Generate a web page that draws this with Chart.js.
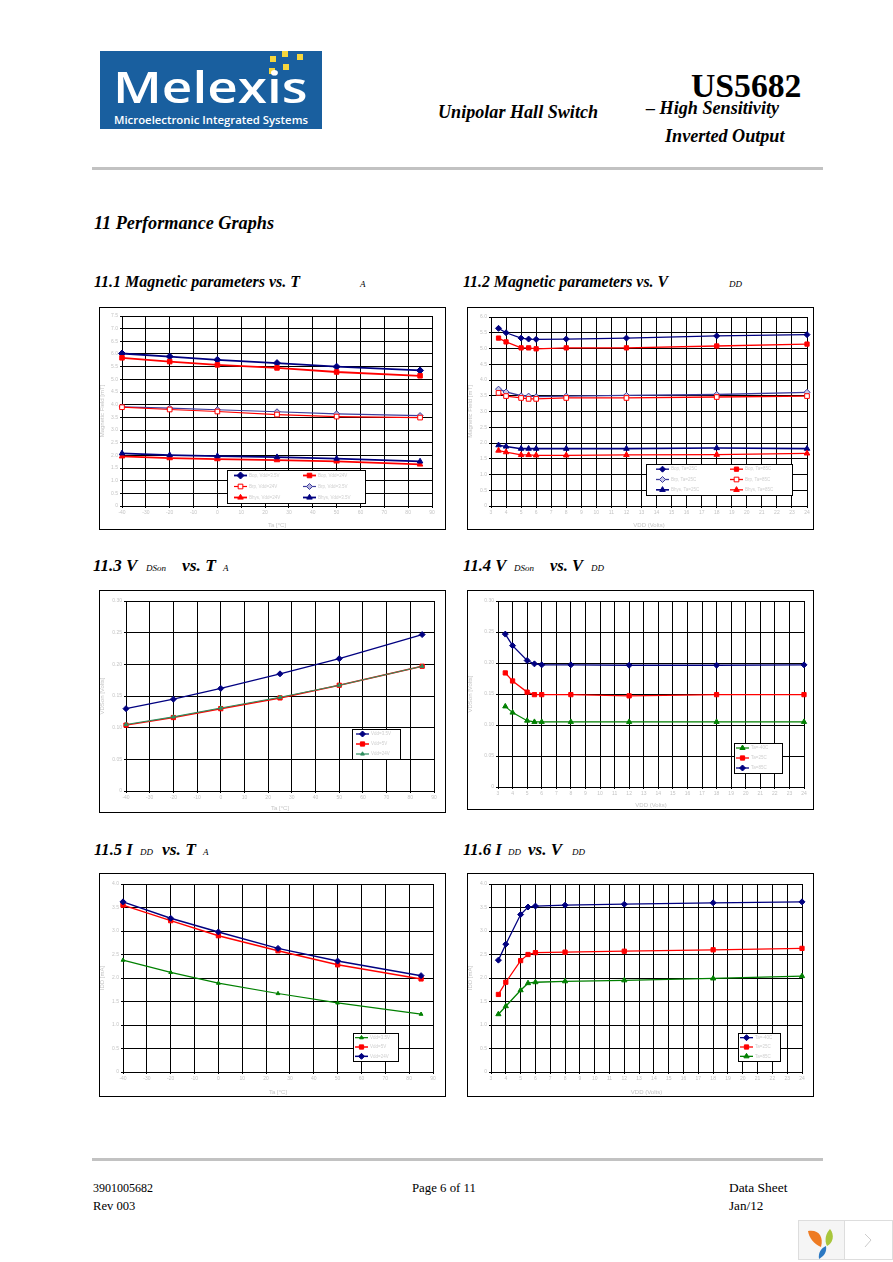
<!DOCTYPE html>
<html>
<head>
<meta charset="utf-8">
<title>US5682 Performance Graphs</title>
<script src="https://cdn.jsdelivr.net/npm/chart.js@4/dist/chart.umd.js"></script>
<style>
html, body { margin: 0; padding: 0; background: #fff; }
#page { position: relative; width: 893px; height: 1262px; overflow: hidden; }
.t { position: absolute; white-space: nowrap; transform: translateY(-50%); transform-origin: left center; font-family: "Liberation Serif", serif; color: #000; }
.h { font-weight: bold; font-style: italic; font-size: 17px; }
.s { font-style: italic; font-size: 9px; }
.f { font-size: 12px; }
.rule { position: absolute; left: 92px; width: 731px; height: 3px; background: #c2c2c2; }
.frame { position: absolute; border: 1px solid #000; box-sizing: border-box; background: #fff; }
.frame canvas { position: absolute; left: -1px; top: -1px; }
#logo { position: absolute; left: 100px; top: 51px; width: 222px; height: 78px; background: #195f9f; }
.sq { position: absolute; width: 6px; height: 6px; background: #f5d63d; }
.lg { position: absolute; color: #fff; font-weight: 600; white-space: nowrap; transform-origin: left center; transform: translateY(-50%); font-family: "Open Sans", sans-serif; }
</style>
</head>
<body>
<div id="page">
  <div id="logo">
    <div class="sq" style="left:170px;top:5px"></div>
    <div class="sq" style="left:182px;top:0px"></div>
    <div class="sq" style="left:197px;top:3px"></div>
    <div class="sq" style="left:183px;top:13px"></div>
    <div class="sq" style="left:169px;top:17px"></div>
    <span class="lg" data-w="194" style="left:13px;top:35px;font-size:44px">Melexis</span>
    <span class="lg" data-w="194" style="left:14px;top:68px;font-size:11px">Microelectronic Integrated Systems</span>
  </div>
  <span class="t" data-w="110" style="left:691px;top:86px;font-size:34px;font-weight:bold">US5682</span>
  <span class="t h" data-w="160" style="left:438px;top:112px;font-size:18px">Unipolar Hall Switch</span>
  <span class="t h" data-w="133" style="left:646px;top:108px;font-size:18px">– High Sensitivity</span>
  <span class="t h" data-w="120" style="left:665px;top:136px;font-size:18px">Inverted Output</span>
  <div class="rule" style="top:167px"></div>
  <span class="t h" data-w="180" style="left:94px;top:223px;font-size:18px">11 Performance Graphs</span>

  <span class="t h" data-w="206" style="left:94px;top:282px">11.1 Magnetic parameters vs. T</span>
  <span class="t s" style="left:360px;top:284px">A</span>
  <span class="t h" data-w="205" style="left:463px;top:282px">11.2 Magnetic parameters vs. V</span>
  <span class="t s" style="left:729px;top:284px">DD</span>

  <span class="t h" data-w="44" style="left:93px;top:566px">11.3 V</span>
  <span class="t s" style="left:146px;top:568px">DSon</span>
  <span class="t h" data-w="34" style="left:182px;top:566px">vs. T</span>
  <span class="t s" style="left:223px;top:568px">A</span>
  <span class="t h" data-w="43" style="left:463px;top:566px">11.4 V</span>
  <span class="t s" style="left:514px;top:568px">DSon</span>
  <span class="t h" data-w="33" style="left:550px;top:566px">vs. V</span>
  <span class="t s" style="left:591px;top:568px">DD</span>

  <span class="t h" data-w="39" style="left:94px;top:850px">11.5 I</span>
  <span class="t s" style="left:140px;top:852px">DD</span>
  <span class="t h" data-w="34" style="left:162px;top:850px">vs. T</span>
  <span class="t s" style="left:203px;top:852px">A</span>
  <span class="t h" data-w="39" style="left:463px;top:850px">11.6 I</span>
  <span class="t s" style="left:508px;top:852px">DD</span>
  <span class="t h" data-w="34" style="left:528px;top:850px">vs. V</span>
  <span class="t s" style="left:572px;top:852px">DD</span>

  <div class="frame" style="left:99px;top:307px;width:347px;height:223px"><canvas id="c1"></canvas></div>
  <div class="frame" style="left:467px;top:307px;width:347px;height:223px"><canvas id="c2"></canvas></div>
  <div class="frame" style="left:99px;top:590px;width:347px;height:223px"><canvas id="c3"></canvas></div>
  <div class="frame" style="left:467px;top:590px;width:347px;height:220px"><canvas id="c4"></canvas></div>
  <div class="frame" style="left:99px;top:873px;width:347px;height:224px"><canvas id="c5"></canvas></div>
  <div class="frame" style="left:467px;top:873px;width:347px;height:224px"><canvas id="c6"></canvas></div>

  <div class="rule" style="top:1158px"></div>
  <span class="t f" data-w="60" style="left:93px;top:1188px">3901005682</span>
  <span class="t f" data-w="42" style="left:93px;top:1206px">Rev 003</span>
  <span class="t f" data-w="64" style="left:412px;top:1188px">Page 6 of 11</span>
  <span class="t f" data-w="58" style="left:729px;top:1188px">Data Sheet</span>
  <span class="t f" data-w="34" style="left:729px;top:1206px">Jan/12</span>

  <svg style="position:absolute;left:798px;top:1220px" width="95" height="40">
    <rect x="0.5" y="0.5" width="46" height="39" fill="#f5f5f5" stroke="#ddd"/>
    <rect x="46.5" y="0.5" width="48" height="39" fill="#fff" stroke="#ddd"/>
    <path d="M10 11 C20 9 26 16 23 27 C16 24 11 18 10 11Z" fill="#ee7b22"/>
    <path d="M32 9 C37 15 35 23 29 26 C26 20 28 13 32 9Z" fill="#a8c63c"/>
    <path d="M28 26 C29 32 26 36 21 39 C20 33 23 28 28 26Z" fill="#2b78c2"/>
    <path d="M67 14 L73 20 L67 27" fill="none" stroke="#ccc"/>
  </svg>
</div>

<script>
// x values
const tempC = [-40, -20, 0, 25, 50, 85];
const vddV = [3.5, 4, 5, 5.5, 6, 8, 12, 18, 24];

// 11.1 magnetic parameters vs Ta
const bopHiT = [6.02, 5.90, 5.77, 5.64, 5.50, 5.35];
const bopLoT = [5.85, 5.70, 5.57, 5.45, 5.29, 5.14];
const brpLoT = [3.90, 3.81, 3.73, 3.61, 3.53, 3.49];
const brpHiT = [3.91, 3.86, 3.80, 3.72, 3.64, 3.57];
const hysLoT = [1.96, 1.89, 1.85, 1.81, 1.76, 1.64];
const hysHiT = [2.08, 2.01, 1.97, 1.93, 1.87, 1.76];

// 11.2 magnetic parameters vs Vdd
const bopHiV = [5.64, 5.50, 5.33, 5.30, 5.29, 5.30, 5.33, 5.40, 5.44];
const bopLoV = [5.33, 5.21, 5.02, 5.02, 4.99, 5.02, 5.02, 5.08, 5.14];
const brpHiV = [3.71, 3.62, 3.50, 3.49, 3.47, 3.49, 3.51, 3.54, 3.61];
const brpLoV = [3.59, 3.49, 3.43, 3.40, 3.40, 3.43, 3.43, 3.46, 3.49];
const hysHiV = [1.93, 1.89, 1.82, 1.82, 1.82, 1.82, 1.82, 1.84, 1.82];
const hysLoV = [1.76, 1.71, 1.62, 1.62, 1.61, 1.61, 1.62, 1.63, 1.67];

// 11.3 VDSon vs Ta
const vdsT35 = [0.130, 0.145, 0.162, 0.185, 0.209, 0.247];
const vdsT5 = [0.104, 0.116, 0.130, 0.147, 0.167, 0.197];
const vdsT24 = [0.105, 0.117, 0.131, 0.148, 0.167, 0.197];

// 11.4 VDSon vs Vdd
const vdsVCold = [0.130, 0.120, 0.107, 0.105, 0.105, 0.105, 0.105, 0.105, 0.105];
const vdsVRoom = [0.184, 0.171, 0.153, 0.149, 0.149, 0.149, 0.147, 0.149, 0.149];
const vdsVHot = [0.2466, 0.228, 0.204, 0.1986, 0.197, 0.197, 0.1964, 0.1964, 0.197];

// 11.5 Idd vs Ta
const iddT35 = [2.38, 2.12, 1.89, 1.67, 1.47, 1.23];
const iddT5 = [3.55, 3.22, 2.90, 2.58, 2.28, 1.98];
const iddT24 = [3.62, 3.27, 2.98, 2.63, 2.36, 2.05];

// 11.6 Idd vs Vdd
const iddVCold = [2.38, 2.72, 3.35, 3.51, 3.53, 3.55, 3.57, 3.60, 3.62];
const iddVRoom = [1.65, 1.91, 2.37, 2.50, 2.54, 2.55, 2.57, 2.60, 2.63];
const iddVHot = [1.23, 1.40, 1.74, 1.89, 1.91, 1.93, 1.95, 1.99, 2.04];

const NAVY = '#000080', RED = '#ff0000', GREEN = '#008000';

// squeeze the page text to the widths in the scan
document.querySelectorAll('[data-w]').forEach(el => {
    const k = el.dataset.w / el.offsetWidth;
    el.style.transform = 'translateY(-50%) scaleX(' + k + ')';
});

function line(label, xs, ys, color, shape, size, width, fill) {
    return {
        label: label,
        data: xs.map((x, i) => ({ x: x, y: ys[i] })),
        showLine: true,
        clip: false,
        borderColor: color,
        borderWidth: width,
        tension: 0,
        pointStyle: shape,
        pointRadius: size,
        pointHoverRadius: size,
        pointBackgroundColor: fill || color,
        pointBorderColor: color,
        pointBorderWidth: 1
    };
}

// boxed legend sitting inside the plot, same as the Excel one
const boxLegend = {
    id: 'boxLegend',
    afterDraw(chart, args, o) {
        const ctx = chart.ctx;
        const sets = chart.data.datasets;
        const rows = Math.ceil(sets.length / o.cols);
        const rowH = o.h / rows;
        ctx.save();
        ctx.fillStyle = '#fff';
        ctx.strokeStyle = '#000';
        ctx.lineWidth = 1;
        ctx.fillRect(o.x, o.y, o.w, o.h);
        ctx.strokeRect(o.x + 0.5, o.y + 0.5, o.w, o.h);
        ctx.font = '4.5px "Liberation Sans"';
        ctx.textBaseline = 'middle';
        sets.forEach((d, i) => {
            const col = i % o.cols;
            const row = Math.floor(i / o.cols);
            const lx = o.x + o.colX[col];
            const ly = o.y + rowH * (row + 0.5);
            ctx.strokeStyle = d.borderColor;
            ctx.lineWidth = d.borderWidth;
            ctx.beginPath();
            ctx.moveTo(lx, ly);
            ctx.lineTo(lx + 13, ly);
            ctx.stroke();
            ctx.fillStyle = d.pointBackgroundColor;
            ctx.lineWidth = 1;
            Chart.helpers.drawPoint(ctx, { pointStyle: d.pointStyle, radius: d.pointRadius, borderWidth: 1, rotation: 0 }, lx + 6.5, ly);
            ctx.fillStyle = '#cfcfcf';
            ctx.fillText(d.label, lx + 15, ly);
        });
        ctx.restore();
    }
};

function makeChart(id, frame, plot, xAxis, yAxis, sets, legend) {
    const canvas = document.getElementById(id);
    canvas.width = frame.w;
    canvas.height = frame.h;
    canvas.style.width = frame.w + 'px';
    canvas.style.height = frame.h + 'px';
    sets.forEach((s, i) => { if (s.order === undefined) s.order = -i; });
    const tickFont = { family: 'Liberation Sans', size: 5 };
    const titleFont = { family: 'Liberation Sans', size: 6 };
    new Chart(canvas, {
        type: 'scatter',
        data: { datasets: sets },
        plugins: [boxLegend],
        options: {
            responsive: false,
            animation: false,
            layout: { padding: { top: plot.top - frame.y, right: frame.x + frame.w - plot.right, left: 0, bottom: 0 } },
            plugins: {
                legend: { display: false },
                tooltip: { enabled: false },
                boxLegend: { x: legend.x - frame.x, y: legend.y - frame.y, w: legend.w, h: legend.h, cols: legend.cols, colX: legend.colX }
            },
            scales: {
                x: {
                    type: 'linear',
                    min: xAxis.min, max: xAxis.max,
                    afterFit: s => { s.height = frame.y + frame.h - plot.bottom; },
                    grid: { color: '#000', lineWidth: 1, tickLength: 2, tickColor: '#000' },
                    border: { color: '#000', width: 1 },
                    ticks: { stepSize: xAxis.step, color: '#c4c4c4', font: tickFont, maxRotation: 0, autoSkip: false, padding: 2 },
                    title: { display: true, text: xAxis.title, color: '#c4c4c4', font: titleFont, padding: { top: 0, bottom: 1 } }
                },
                y: {
                    type: 'linear',
                    min: yAxis.min, max: yAxis.max,
                    afterFit: s => { s.width = plot.left - frame.x; },
                    grid: { color: '#000', lineWidth: 1, tickLength: 2, tickColor: '#000' },
                    border: { color: '#000', width: 1 },
                    ticks: { stepSize: yAxis.step, color: '#c4c4c4', font: tickFont, autoSkip: false, padding: 2 },
                    title: { display: true, text: yAxis.title, color: '#c4c4c4', font: titleFont, padding: { top: 0, bottom: 0 } }
                }
            }
        }
    });
}

makeChart('c1',
    { x: 99, y: 307, w: 347, h: 223 },
    { left: 122, right: 432, top: 316, bottom: 506 },
    { min: -40, max: 90, step: 10, title: 'Ta [°C]' },
    { min: 0, max: 7.5, step: 0.5, title: 'Magnetic Field [mT]' },
    [
        line('Bop, Vdd=3.5V', tempC, bopHiT, NAVY, 'rectRot', 3.5, 1.8),
        line('Bop, Vdd=24V', tempC, bopLoT, RED, 'rect', 3.2, 1.8),
        line('Brp, Vdd=24V', tempC, brpLoT, RED, 'rect', 3.3, 1.2, '#fff'),
        Object.assign(line('Brp, Vdd=3.5V', tempC, brpHiT, '#3c3c9c', 'rectRot', 3, 1.2, '#b0b0dc'), { order: 1 }),
        line('Bhys, Vdd=24V', tempC, hysLoT, RED, 'triangle', 3.2, 1.8),
        line('Bhys, Vdd=3.5V', tempC, hysHiT, NAVY, 'triangle', 3.2, 1.8)
    ],
    { x: 227, y: 470, w: 138, h: 33, cols: 2, colX: [7, 76] });

makeChart('c2',
    { x: 467, y: 307, w: 347, h: 223 },
    { left: 491, right: 807, top: 317, bottom: 506 },
    { min: 3, max: 24, step: 1, title: 'VDD (Volts)' },
    { min: 0, max: 6, step: 0.5, title: 'Magnetic Field [mT]' },
    [
        line('Bop, Ta=25C', vddV, bopHiV, NAVY, 'rectRot', 3, 1.3),
        line('Bop, Ta=85C', vddV, bopLoV, RED, 'rect', 3, 1.3),
        line('Brp, Ta=25C', vddV, brpHiV, '#3c3c9c', 'rectRot', 3, 1.3, '#c8c8e8'),
        line('Brp, Ta=85C', vddV, brpLoV, RED, 'rect', 3.3, 1.3, '#fff'),
        line('Bhys, Ta=25C', vddV, hysHiV, NAVY, 'triangle', 3.2, 1.6),
        line('Bhys, Ta=85C', vddV, hysLoV, RED, 'triangle', 3.2, 1.3)
    ],
    { x: 646, y: 464, w: 146, h: 31, cols: 2, colX: [10, 84] });

makeChart('c3',
    { x: 99, y: 590, w: 347, h: 223 },
    { left: 126, right: 434, top: 601, bottom: 791 },
    { min: -40, max: 90, step: 10, title: 'Ta [°C]' },
    { min: 0, max: 0.3, step: 0.05, title: 'VDSon [Volts]' },
    [
        line('Vdd=3.5V', tempC, vdsT35, NAVY, 'rectRot', 3, 1.3),
        line('Vdd=5V', tempC, vdsT5, RED, 'rect', 3, 1.5),
        line('Vdd=24V', tempC, vdsT24, '#2f8f5f', 'triangle', 2.2, 1.2)
    ],
    { x: 352, y: 729, w: 48, h: 30, cols: 1, colX: [4] });

makeChart('c4',
    { x: 467, y: 590, w: 347, h: 220 },
    { left: 498, right: 804, top: 601, bottom: 787 },
    { min: 3, max: 24, step: 1, title: 'VDD (Volts)' },
    { min: 0, max: 0.3, step: 0.05, title: 'VDSon [Volts]' },
    [
        line('Ta=-40C', vddV, vdsVCold, GREEN, 'triangle', 3, 1.2),
        line('Ta=25C', vddV, vdsVRoom, RED, 'rect', 3, 1.3),
        line('Ta=85C', vddV, vdsVHot, NAVY, 'rectRot', 3, 1.3)
    ],
    { x: 734, y: 743, w: 48, h: 30, cols: 1, colX: [2] });

makeChart('c5',
    { x: 99, y: 873, w: 347, h: 224 },
    { left: 123, right: 433, top: 884, bottom: 1072 },
    { min: -40, max: 90, step: 10, title: 'Ta [°C]' },
    { min: 0, max: 4, step: 0.5, title: 'IDD [mA]' },
    [
        line('Vdd=3.5V', tempC, iddT35, GREEN, 'triangle', 2.2, 1.2),
        line('Vdd=5V', tempC, iddT5, RED, 'rect', 3, 1.5),
        line('Vdd=24V', tempC, iddT24, NAVY, 'rectRot', 3, 1.5)
    ],
    { x: 353, y: 1033, w: 45, h: 28, cols: 1, colX: [2] });

makeChart('c6',
    { x: 467, y: 873, w: 347, h: 224 },
    { left: 491, right: 802, top: 884, bottom: 1072 },
    { min: 3, max: 24, step: 1, title: 'VDD (Volts)' },
    { min: 0, max: 4, step: 0.5, title: 'IDD [mA]' },
    [
        line('Ta=-40C', vddV, iddVCold, NAVY, 'rectRot', 3, 1.3),
        line('Ta=25C', vddV, iddVRoom, RED, 'rect', 3, 1.3),
        line('Ta=85C', vddV, iddVHot, GREEN, 'triangle', 3, 1.3)
    ],
    { x: 738, y: 1033, w: 42, h: 28, cols: 1, colX: [2] });
</script>
</body>
</html>
